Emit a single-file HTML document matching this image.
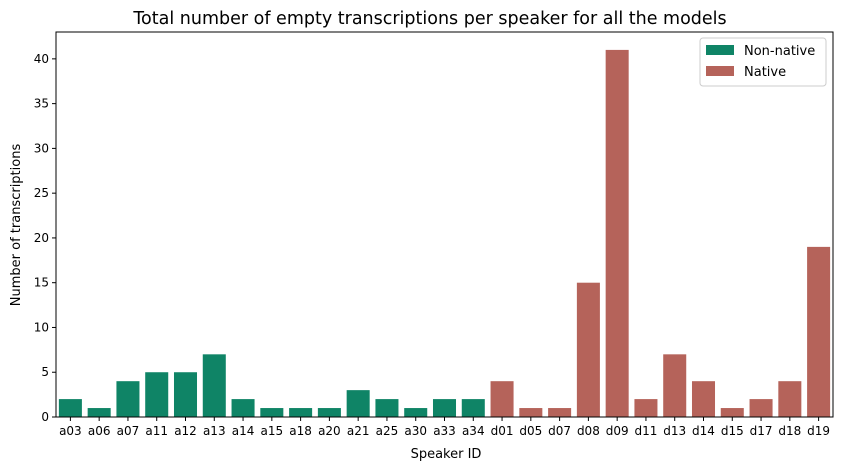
<!DOCTYPE html>
<html><head><meta charset="utf-8"><style>
body{margin:0;background:#fff;font-family:"Liberation Sans","DejaVu Sans",sans-serif;}
svg text{font-family:"DejaVu Sans","Liberation Sans",sans-serif;}
</style></head><body>
<svg id="chart" width="841" height="470" xmlns="http://www.w3.org/2000/svg">
<text x="430" y="24" text-anchor="middle" font-size="17.5" fill="#000">Total number of empty transcriptions per speaker for all the models</text>
<g id="bars"></g><g id="axes"></g>
<text x="446" y="458" text-anchor="middle" font-size="13">Speaker ID</text>
<text transform="translate(20,225) rotate(-90)" text-anchor="middle" font-size="13">Number of transcriptions</text>
<g>
<rect x="700" y="38" width="126" height="48" fill="#fff" stroke="#ccc" rx="3"/>
<g><rect x="706" y="45" width="28" height="10" fill="#0f8466"/><text x="744" y="55" font-size="13">Non-native</text></g>
<g><rect x="706" y="66" width="28" height="10" fill="#b5635a"/><text x="744" y="76" font-size="13">Native</text></g>
</g>
</svg>
<script>
const categories=["a03","a06","a07","a11","a12","a13","a14","a15","a18","a20","a21","a25","a30","a33","a34","d01","d05","d07","d08","d09","d11","d13","d14","d15","d17","d18","d19"];
const values=[2,1,4,5,5,7,2,1,1,1,3,2,1,2,2,4,1,1,15,41,2,7,4,1,2,4,19];
const groups=["n","n","n","n","n","n","n","n","n","n","n","n","n","n","n","d","d","d","d","d","d","d","d","d","d","d","d"];
const yTicks=[0,5,10,15,20,25,30,35,40];
const L=56,R=833,T=32,B=417,yMax=43.0;
const ns="http://www.w3.org/2000/svg";
const step=(R-L)/categories.length;
const x=i=>L+step*i;
const y=v=>B-(v/yMax)*(B-T);
const bars=document.getElementById('bars'),axes=document.getElementById('axes');
function mk(t,a,p){const e=document.createElementNS(ns,t);for(const k in a)e.setAttribute(k,a[k]);p.appendChild(e);return e;}
categories.forEach((c,i)=>{
 const r=mk('rect',{x:x(i)+step*0.1,y:y(values[i]),width:step*0.8,height:B-y(values[i]),fill:groups[i]=="n"?"#0f8466":"#b5635a"},bars);
 
 
 mk('line',{x1:x(i)+step/2,x2:x(i)+step/2,y1:B,y2:B+4,stroke:'#000'},axes);
 const t=mk('text',{x:x(i)+step/2,y:B+18,'text-anchor':'middle','font-size':12},axes);t.textContent=c;
 
 
});
yTicks.forEach(v=>{
 mk('line',{x1:L-4,x2:L,y1:y(v),y2:y(v),stroke:'#000'},axes);
 const t=mk('text',{x:L-7,y:y(v)+4,'text-anchor':'end','font-size':12},axes);t.textContent=v;
 
 
});
const f=mk('rect',{x:L,y:T,width:R-L,height:B-T,fill:'none',stroke:'#000','stroke-width':1},axes);


</script>
</body></html>
